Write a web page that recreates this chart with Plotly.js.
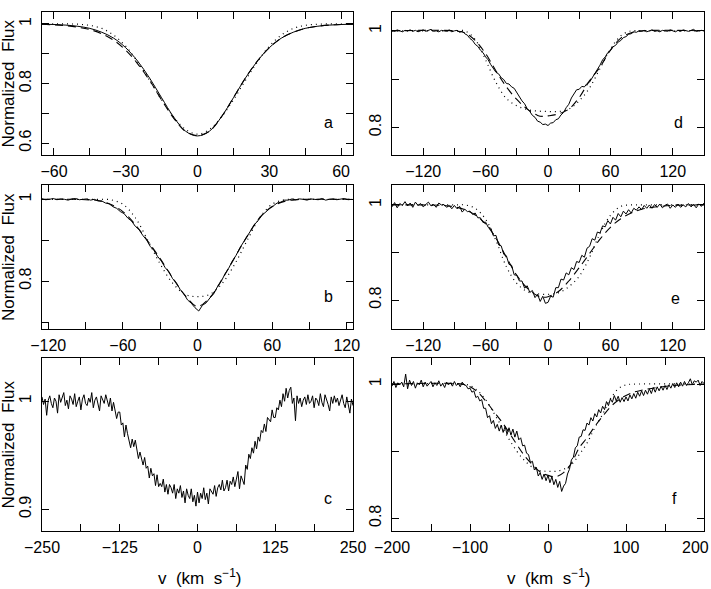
<!DOCTYPE html>
<html>
<head>
<meta charset="utf-8">
<script src="https://cdn.plot.ly/plotly-3.0.1.min.js"></script>
<style>html,body{margin:0;padding:0;background:#fff;}#chart{width:711px;height:589px;}</style>
</head>
<body>
<div id="chart"></div>
<script>
// ---------------- Panel a ----------------
const aV     = [-65,-60,-55,-50,-45,-40,-35,-30,-25,-20,-15,-10,-5,0,5,10,15,20,25,30,35,40,45,50,55,60,65];
const aSolid = [0.999,0.998,0.996,0.992,0.985,0.972,0.952,0.920,0.875,0.818,0.752,0.688,0.640,0.624,0.640,0.688,0.752,0.818,0.875,0.920,0.952,0.972,0.985,0.992,0.996,0.998,0.999];
const aDash  = [0.999,0.997,0.994,0.989,0.981,0.967,0.945,0.912,0.866,0.810,0.745,0.684,0.639,0.625,0.640,0.688,0.752,0.818,0.875,0.920,0.952,0.972,0.985,0.992,0.996,0.998,0.999];
const aDot   = [1.000,1.000,1.000,0.999,0.995,0.985,0.962,0.925,0.872,0.810,0.745,0.688,0.646,0.630,0.646,0.688,0.745,0.810,0.872,0.925,0.962,0.985,0.995,0.999,1.000,1.000,1.000];

// ---------------- Panel b ----------------
const bV0 = -125, bDV = 3;
const bObs = [1.001,0.999,1.000,1.002,0.999,1.001,1.000,0.998,1.001,1.002,
              0.999,1.000,1.001,0.998,1.000,0.996,0.996,0.991,0.989,0.982,
              0.978,0.970,0.965,0.954,0.947,0.934,0.926,0.912,0.901,0.885,
              0.875,0.860,0.849,0.833,0.823,0.806,0.796,0.780,0.769,0.754,
              0.746,0.735,0.727,0.741,0.747,0.759,0.769,0.786,0.799,0.817,
              0.831,0.849,0.863,0.881,0.895,0.912,0.924,0.939,0.949,0.962,
              0.969,0.979,0.984,0.991,0.993,0.998,0.998,1.001,0.999,1.001,
              1.000,0.998,1.001,1.000,0.999,1.002,0.998,1.000,1.001,0.999,
              1.000,1.002,0.999,1.000];
const bModelV = [-125,-100,-90,-80,-70,-60,-50,-40,-30,-20,-10,0,10,20,30,40,50,60,70,80,90,100,125];
const bDash   = [1.000,1.000,0.999,0.997,0.988,0.970,0.938,0.898,0.855,0.808,0.765,0.738,0.760,0.806,0.858,0.910,0.955,0.982,0.995,0.999,1.000,1.000,1.000];
const bDot    = [1.000,1.000,1.000,1.000,0.999,0.988,0.955,0.900,0.842,0.795,0.768,0.762,0.768,0.795,0.842,0.900,0.955,0.988,0.999,1.000,1.000,1.000,1.000];

// ---------------- Panel c ----------------
const cV0 = -250, cDV = 2.5;
const cObs = [1.004,0.997,1.002,0.987,1.001,1.005,0.998,0.994,1.003,1.000,
              0.989,1.006,0.999,1.003,1.008,0.996,1.001,0.993,1.005,1.002,
              0.997,1.007,0.995,1.000,1.004,0.992,1.002,1.006,0.998,0.996,
              1.003,0.999,1.008,0.994,1.001,1.004,0.997,0.991,1.005,1.002,
              0.998,1.006,1.000,0.995,1.003,0.991,0.999,0.993,0.984,0.990,
              0.990,0.978,0.980,0.967,0.978,0.970,0.963,0.957,0.965,0.958,
              0.964,0.953,0.947,0.953,0.948,0.941,0.948,0.938,0.940,0.929,
              0.938,0.931,0.933,0.922,0.932,0.921,0.924,0.921,0.928,0.916,
              0.923,0.914,0.923,0.920,0.915,0.923,0.910,0.919,0.915,0.922,
              0.911,0.917,0.906,0.919,0.913,0.910,0.919,0.907,0.913,0.903,
              0.916,0.906,0.915,0.910,0.920,0.909,0.915,0.905,0.919,0.916,
              0.914,0.922,0.912,0.920,0.923,0.918,0.927,0.917,0.920,0.927,
              0.917,0.926,0.923,0.930,0.921,0.928,0.935,0.919,0.931,0.927,
              0.923,0.941,0.937,0.951,0.947,0.957,0.952,0.963,0.956,0.967,
              0.963,0.973,0.971,0.979,0.972,0.985,0.983,0.981,0.992,0.985,
              0.985,0.994,0.992,1.001,0.995,1.007,1.000,1.012,1.003,1.010,
              1.013,0.998,1.003,0.982,1.005,0.998,1.003,0.995,1.001,1.004,
              0.997,1.006,0.998,1.000,1.005,0.994,1.003,1.001,0.996,1.007,
              0.999,0.995,1.006,1.002,0.997,0.991,1.004,0.998,1.005,0.999,
              1.003,0.996,1.001,1.006,0.998,0.994,1.004,0.997,0.989,1.002,
              0.996];

// ---------------- Panel d ----------------
const dV0 = -150, dDV = 2.5;
const dObs = [1.001,0.999,1.002,1.000,0.998,1.001,1.000,1.002,0.999,1.001,
              0.998,1.000,1.002,0.999,1.001,1.003,0.999,1.000,0.998,1.001,
              1.000,0.999,1.002,0.998,1.000,1.001,0.997,0.999,0.994,0.991,
              0.984,0.980,0.972,0.968,0.960,0.955,0.946,0.940,0.930,0.923,
              0.914,0.911,0.903,0.899,0.891,0.890,0.884,0.881,0.872,0.866,
              0.855,0.849,0.839,0.833,0.825,0.821,0.813,0.811,0.806,0.807,
              0.804,0.809,0.810,0.816,0.818,0.826,0.831,0.841,0.848,0.861,
              0.869,0.878,0.879,0.885,0.884,0.891,0.894,0.903,0.909,0.921,
              0.929,0.940,0.946,0.955,0.959,0.967,0.970,0.977,0.980,0.986,
              0.988,0.993,0.994,0.998,0.997,1.000,0.999,1.001,0.998,1.000,
              1.002,0.999,1.000,0.998,1.001,1.000,0.999,1.002,1.000,0.998,
              1.001,0.999,1.002,1.000,0.999,1.001,1.003,0.999,1.000,1.001,
              1.000];
const dDashV = [-150,-90,-80,-70,-60,-50,-40,-30,-20,-10,-5,0,10,20,30,40,50,60,70,80,90,150];
const dDash  = [1.000,1.000,0.996,0.980,0.953,0.917,0.884,0.858,0.838,0.825,0.823,0.824,0.828,0.838,0.862,0.897,0.925,0.960,0.985,0.996,1.000,1.000];
const dDotV  = [-150,-90,-80,-70,-60,-50,-40,-30,-20,-10,0,10,20,30,40,50,60,70,80,90,150];
const dDot   = [1.000,1.000,1.000,0.982,0.940,0.893,0.860,0.845,0.837,0.834,0.833,0.833,0.838,0.855,0.882,0.922,0.962,0.990,1.000,1.000,1.000];

// ---------------- Panel e ----------------
const eV0 = -150, eDV = 2.5;
const eObs = [0.996,1.005,0.994,1.003,0.999,1.007,0.998,1.004,0.995,1.006,
              0.999,1.003,0.996,1.002,1.006,0.998,1.001,0.995,1.004,1.000,
              1.001,0.995,0.999,0.992,0.999,0.992,0.997,0.985,0.991,0.986,
              0.987,0.980,0.983,0.973,0.973,0.963,0.964,0.953,0.951,0.935,
              0.936,0.916,0.914,0.896,0.893,0.875,0.873,0.853,0.852,0.840,
              0.840,0.825,0.830,0.816,0.820,0.805,0.812,0.797,0.808,0.793,
              0.795,0.808,0.806,0.826,0.826,0.844,0.842,0.857,0.853,0.868,
              0.864,0.881,0.879,0.894,0.890,0.909,0.913,0.929,0.926,0.943,
              0.941,0.956,0.954,0.967,0.960,0.974,0.968,0.982,0.975,0.987,
              0.981,0.990,0.983,0.993,0.989,0.996,0.990,0.999,0.993,1.000,
              0.993,1.001,0.995,1.002,0.994,0.999,1.002,0.993,1.000,0.995,
              1.002,0.995,1.000,0.996,1.003,0.996,1.001,0.994,1.002,0.997,
              1.004];
const eDashV = [-150,-100,-90,-80,-70,-60,-50,-40,-30,-20,-10,-5,0,10,20,30,40,50,60,70,80,90,100,120,150];
const eDash  = [1.000,0.999,0.996,0.990,0.979,0.960,0.930,0.890,0.852,0.825,0.809,0.806,0.807,0.818,0.840,0.868,0.898,0.928,0.953,0.971,0.983,0.991,0.995,0.999,1.000];
const eDotV  = [-150,-90,-80,-70,-60,-50,-40,-30,-20,-10,0,10,20,30,40,50,60,70,80,90,150];
const eDot   = [1.000,1.000,1.000,0.993,0.970,0.925,0.870,0.835,0.818,0.813,0.812,0.815,0.828,0.850,0.890,0.940,0.978,0.997,1.000,1.000,1.000];

// ---------------- Panel f ----------------
const fV0 = -200, fDV = 2.5;
const fObs = [0.997,1.004,0.995,1.002,0.999,1.003,0.996,1.015,0.993,1.006,
              0.998,1.004,0.994,1.002,0.999,1.006,0.996,1.003,0.997,1.001,
              1.004,0.996,1.002,0.998,1.005,0.997,1.001,0.995,1.003,0.999,
              1.002,0.997,1.004,0.998,1.001,0.996,1.003,0.999,0.998,0.993,
              0.994,0.988,0.990,0.980,0.982,0.975,0.977,0.964,0.964,0.950,
              0.953,0.941,0.946,0.934,0.940,0.930,0.939,0.928,0.937,0.925,
              0.935,0.924,0.933,0.921,0.930,0.917,0.920,0.908,0.909,0.897,
              0.895,0.883,0.885,0.872,0.876,0.863,0.868,0.858,0.866,0.856,
              0.864,0.853,0.862,0.850,0.858,0.846,0.855,0.840,0.848,0.852,
              0.866,0.873,0.887,0.891,0.905,0.908,0.921,0.922,0.932,0.931,
              0.942,0.939,0.950,0.945,0.956,0.951,0.962,0.957,0.967,0.962,
              0.974,0.968,0.978,0.973,0.983,0.975,0.982,0.973,0.980,0.974,
              0.981,0.975,0.984,0.978,0.986,0.979,0.988,0.982,0.990,0.983,
              0.991,0.985,0.993,0.986,0.995,0.988,0.996,0.990,0.997,0.991,
              0.998,0.992,0.999,0.994,1.001,0.995,1.002,0.996,1.003,0.997,
              1.004,0.998,1.002,1.008,0.999,1.005,1.003,1.006,0.998,1.004,
              1.001];
const fDashV = [-200,-110,-100,-90,-80,-70,-60,-50,-40,-30,-20,-10,0,10,20,30,40,50,60,70,80,90,100,110,120,140,160,200];
const fDash  = [1.000,1.000,0.996,0.988,0.975,0.960,0.945,0.928,0.910,0.893,0.880,0.869,0.864,0.862,0.868,0.882,0.905,0.920,0.937,0.952,0.966,0.976,0.983,0.988,0.991,0.995,0.998,1.000];
const fDotV  = [-200,-110,-100,-90,-80,-70,-60,-50,-40,-30,-20,-10,0,10,20,30,40,50,60,70,80,90,100,110,200];
const fDot   = [1.000,1.000,0.998,0.990,0.977,0.958,0.938,0.918,0.900,0.886,0.876,0.871,0.870,0.870,0.873,0.880,0.895,0.912,0.935,0.955,0.978,0.993,0.999,1.000,1.000];

// ---------------- Tick labels ----------------
const M = '\u2212';
const aXt = [-60,-30,0,30,60], aXl = [M+'60',M+'30','0','30','60'], aXm = [-45,-15,15,45];
const aYt = [0.6,0.8,1.0], aYl = ['0.6','0.8','1'], aYm = [0.7,0.9];
const bXt = [-120,-60,0,60,120], bXl = [M+'120',M+'60','0','60','120'], bXm = [-90,-30,30,90];
const bYt = [0.8,1.0], bYl = ['0.8','1'], bYm = [0.7,0.9];
const cXt = [-250,-125,0,125,250], cXl = [M+'250',M+'125','0','125','250'], cXm = [-187.5,-62.5,62.5,187.5];
const cYt = [0.9,1.0], cYl = ['0.9','1'], cYm = [];
const deXt = [-120,-60,0,60,120], deXl = [M+'120',M+'60','0','60','120'], deXm = [-90,-30,30,90];
const deYt = [0.8,1.0], deYl = ['0.8','1'], deYm = [0.9];
const fXt = [-200,-100,0,100,200], fXl = [M+'200',M+'100','0','100','200'], fXm = [-150,-50,50,150];
const fYt = [0.8,1.0], fYl = ['0.8','1'], fYm = [0.9];

const panelLetters = ['a','b','c','d','e','f'];
const xTitle = 'v  (km  s<sup>'+M+'1</sup>)';
const yTitle = 'Normalized  Flux';

// ---------------- Build ----------------
const solid = {color:'black', width:1};
const dashed = {color:'black', width:1.1, dash:'8px,5px', shape:'spline', smoothing:1};
const dotted = {color:'black', width:1.2, dash:'1px,4px', shape:'spline', smoothing:1};
function tr(ax, obj, line){ return Object.assign({type:'scatter', mode:'lines', xaxis:'x'+ax, yaxis:'y'+ax, line:line, hoverinfo:'skip'}, obj); }

const traces = [
  tr('', {x:aV, y:aDot}, dotted),
  tr('', {x:aV, y:aDash}, dashed),
  tr('', {x:aV, y:aSolid}, Object.assign({shape:'spline', smoothing:1}, solid)),
  tr('2', {x:bModelV, y:bDot}, dotted),
  tr('2', {x:bModelV, y:bDash}, dashed),
  tr('2', {x0:bV0, dx:bDV, y:bObs}, solid),
  tr('3', {x0:cV0, dx:cDV, y:cObs}, solid),
  tr('4', {x:dDotV, y:dDot}, dotted),
  tr('4', {x:dDashV, y:dDash}, dashed),
  tr('4', {x0:dV0, dx:dDV, y:dObs}, solid),
  tr('5', {x:eDotV, y:eDot}, dotted),
  tr('5', {x:eDashV, y:eDash}, dashed),
  tr('5', {x0:eV0, dx:eDV, y:eObs}, solid),
  tr('6', {x:fDotV, y:fDot}, dotted),
  tr('6', {x:fDashV, y:fDash}, dashed),
  tr('6', {x0:fV0, dx:fDV, y:fObs}, solid)
];

const W = 711, H = 589;
function dx(l, r){ return [l/W, r/W]; }
function dy(t, b){ return [1 - b/H, 1 - t/H]; }
const common = {showline:true, linecolor:'black', linewidth:1, mirror:'ticks', ticks:'inside', ticklen:7,
  tickcolor:'black', tickwidth:1, showgrid:false, zeroline:false, tickmode:'array', fixedrange:true,
  tickfont:{size:16, color:'black'}};
function minor(v){ return {tickmode:'array', tickvals:v, ticks:'inside', ticklen:7, tickcolor:'black', tickwidth:1, showgrid:false}; }
function xa(domain, range, tv, tl, mv, anchor){ return Object.assign({}, common, {domain, range, tickvals:tv, ticktext:tl, minor:minor(mv), anchor, ticklabelstandoff:2}); }
function ya(domain, range, tv, tl, mv, anchor){ return Object.assign({}, common, {domain, range, tickvals:tv, ticktext:tl, minor:minor(mv), anchor, tickangle:-90, ticklabelstandoff:4}); }

const L1 = dx(42,353), L2 = dx(392,704);
const R1 = dy(12,155), R2 = dy(185,329), R3 = dy(358,531);

const layout = {
  width:W, height:H, margin:{l:0,r:0,t:0,b:0}, showlegend:false,
  paper_bgcolor:'white', plot_bgcolor:'white',
  font:{family:'Liberation Sans, Arial, sans-serif', size:16, color:'black'},
  xaxis:  xa(L1, [-65,65], aXt, aXl, aXm, 'y'),
  yaxis:  ya(R1, [0.56,1.04], aYt, aYl, aYm, 'x'),
  xaxis2: xa(L1, [-125,125], bXt, bXl, bXm, 'y2'),
  yaxis2: ya(R2, [0.683,1.035], bYt, bYl, bYm, 'x2'),
  xaxis3: xa(L1, [-250,250], cXt, cXl, cXm, 'y3'),
  yaxis3: ya(R3, [0.88,1.04], cYt, cYl, cYm, 'x3'),
  xaxis4: xa(L2, [-150,150], deXt, deXl, deXm, 'y4'),
  yaxis4: ya(R1, [0.743,1.039], deYt, deYl, deYm, 'x4'),
  xaxis5: xa(L2, [-150,150], deXt, deXl, deXm, 'y5'),
  yaxis5: ya(R2, [0.739,1.042], deYt, deYl, deYm, 'x5'),
  xaxis6: xa(L2, [-200,200], fXt, fXl, fXm, 'y6'),
  yaxis6: ya(R3, [0.781,1.039], fYt, fYl, fYm, 'x6'),
  annotations: []
};
const letterPos = [['x','y',0.92,0.224],['x2','y2',0.92,0.224],['x3','y3',0.92,0.185],
                   ['x4','y4',0.917,0.224],['x5','y5',0.91,0.215],['x6','y6',0.904,0.19]];
letterPos.forEach((p,i)=>{
  layout.annotations.push({xref:p[0]+' domain', yref:p[1]+' domain', x:p[2], y:p[3], text:panelLetters[i],
    showarrow:false, xanchor:'center', yanchor:'middle', font:{size:16}});
});
// right-edge label of panel f (Plotly drops it as a tick label because it would run past the page)
layout.annotations.push({xref:'paper', yref:'paper', x:1, y:1-547/H, text:fXl[fXl.length-1],
  showarrow:false, xanchor:'right', yanchor:'middle', font:{size:16}});
[[0.28],[0.772]].forEach(p=>{
  layout.annotations.push({xref:'paper', yref:'paper', x:p[0], y:1-577/H, text:xTitle, showarrow:false,
    xanchor:'center', yanchor:'middle', font:{size:17}});
});
[R1,R2,R3].forEach(r=>{
  layout.annotations.push({xref:'paper', yref:'paper', x:8/W, y:(r[0]+r[1])/2, text:yTitle, textangle:-90,
    showarrow:false, xanchor:'center', yanchor:'middle', font:{size:17}});
});

Plotly.newPlot('chart', traces, layout, {staticPlot:true, displayModeBar:false});
</script>
</body>
</html>
